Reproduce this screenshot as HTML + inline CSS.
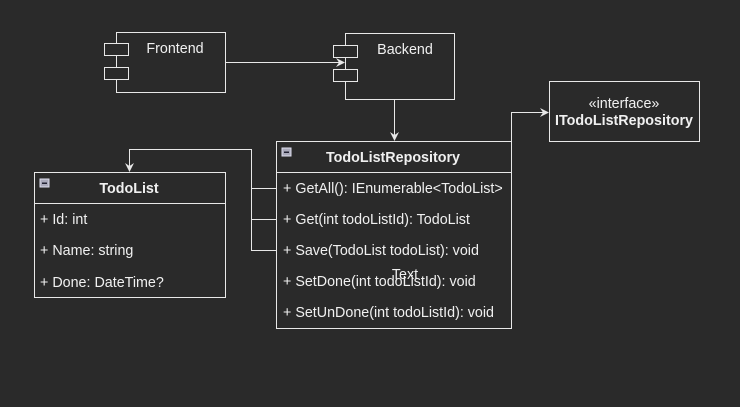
<!DOCTYPE html><html><head><style>body{margin:0;background:#2a2a2a;}svg{display:block}text{font-family:"Liberation Sans",Arial,sans-serif;font-size:14.3px;fill:#f0f0f0}</style></head><body>
<svg width="740" height="407" xmlns="http://www.w3.org/2000/svg">
<rect width="740" height="407" fill="#2a2a2a"/>
<g fill="#2a2a2a" stroke="#e8e8e8" stroke-width="1">
<rect x="116.5" y="32.5" width="109" height="60"/>
<rect x="104.5" y="43.5" width="24" height="12"/>
<rect x="104.5" y="67.5" width="24" height="12"/>
<rect x="345.5" y="33.5" width="109" height="66"/>
<rect x="333.5" y="45.5" width="24" height="12"/>
<rect x="333.5" y="69.5" width="24" height="12"/>
<rect x="549.5" y="81.5" width="150" height="60"/>
<rect x="276.5" y="141.5" width="235" height="187"/>
<line x1="276" y1="172.5" x2="511" y2="172.5"/>
<rect x="34.5" y="172.5" width="191" height="125"/>
<line x1="34" y1="203.5" x2="225" y2="203.5"/>
</g>
<g fill="none" stroke="#e8e8e8">
<polyline points="225,62.5 340,62.5"/>
<polyline points="394.5,99 394.5,136"/>
<polyline points="511.5,141 511.5,112.5 544,112.5"/>
<polyline points="276,188.5 251.5,188.5"/>
<polyline points="276,219.5 251.5,219.5"/>
<polyline points="276,250.5 251.5,250.5 251.5,149.5 129.5,149.5 129.5,167"/>
</g>
<g fill="#e8e8e8">
<path d="M345,62.5 L336,58 L339,62.5 L336,67 Z"/>
<path d="M394.5,141 L390,132 L394.5,135 L399,132 Z"/>
<path d="M549,112.5 L540,108 L543,112.5 L540,117 Z"/>
<path d="M129.5,172 L125,163 L129.5,166 L134,163 Z"/>
</g>
<rect x="282" y="148" width="9" height="8" fill="#aab" stroke="#dde"/><rect x="284" y="151.5" width="5" height="1.5" fill="#223"/>
<rect x="40" y="179" width="9" height="8" fill="#aab" stroke="#dde"/><rect x="42" y="182.5" width="5" height="1.5" fill="#223"/>
<text x="175" y="53" text-anchor="middle">Frontend</text>
<text x="405" y="54" text-anchor="middle">Backend</text>
<text x="624" y="108" text-anchor="middle">«interface»</text>
<text x="624" y="125" text-anchor="middle" font-weight="bold">ITodoListRepository</text>
<text x="393" y="162" text-anchor="middle" font-weight="bold">TodoListRepository</text>
<text x="283" y="193">+ GetAll(): IEnumerable&lt;TodoList&gt;</text>
<text x="283" y="224">+ Get(int todoListId): TodoList</text>
<text x="283" y="255">+ Save(TodoList todoList): void</text>
<text x="283" y="286">+ SetDone(int todoListId): void</text>
<text x="283" y="317">+ SetUnDone(int todoListId): void</text>
<text x="405" y="279" text-anchor="middle">Text</text>
<text x="129" y="193" text-anchor="middle" font-weight="bold">TodoList</text>
<text x="40" y="224">+ Id: int</text>
<text x="40" y="255">+ Name: string</text>
<text x="40" y="287">+ Done: DateTime?</text>
</svg></body></html>
